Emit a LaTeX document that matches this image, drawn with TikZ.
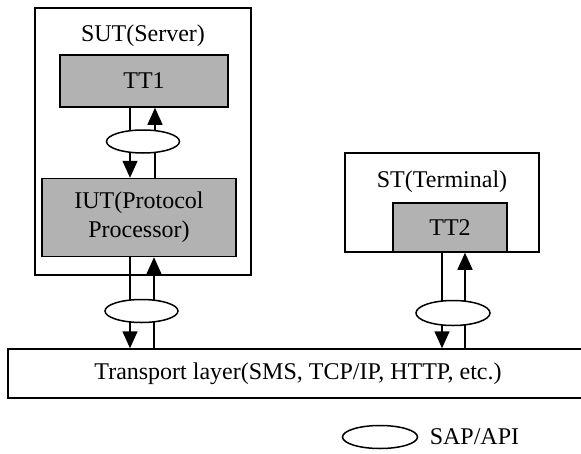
\documentclass[tikz,border=0pt]{standalone}
\usepackage{fontspec}
\setmainfont{Liberation Serif}
\usetikzlibrary{shapes.geometric,arrows.meta,positioning}

\tikzset{
    box/.style={draw, line width=1.5pt, inner sep=0pt},
    tester/.style={box, fill=gray!60, align=center},
    sap/.style={draw, ellipse, line width=1.5pt, fill=white, minimum width=73pt, minimum height=23pt, inner sep=0pt},
    flow/.style={line width=1.5pt, -{Triangle[width=15pt,length=17pt]}},
}

\begin{document}
\begin{tikzpicture}[x=1pt, y=-1pt, font=\fontsize{24}{29}\selectfont]
        \useasboundingbox (0,0) rectangle (581,453);

        % Server side
        \node[box, minimum width=216pt, minimum height=267pt] (sut) at (143,141.5) {};
        \node (sutlabel) at (143,36) {SUT(Server)};
        \node[tester, minimum width=168pt, minimum height=52pt] (tt1) at (144,81) {TT1};
        \node[tester, minimum width=194pt, minimum height=78pt] (iut) at (139,217.5) {IUT(Protocol\\Processor)};

        % Terminal side
        \node[box, minimum width=194pt, minimum height=99pt] (st) at (442,202.5) {};
        \node (stlabel) at (442,182) {ST(Terminal)};
        \node[tester, minimum width=114pt, minimum height=49pt] (tt2) at (450,227.5) {TT2};

        % Transport layer (runs off the right edge)
        \node[box, minimum width=580pt, minimum height=49pt] (transport) at (298,373.5) {Transport layer(SMS, TCP/IP, HTTP, etc.)};

        % Down and up paths
        \draw[flow] ([xshift=-14pt]tt1.south) -- ([xshift=-14pt]tt1.south |- iut.north);
        \draw[flow] ([xshift=11pt]tt1.south |- iut.north) -- ([xshift=11pt]tt1.south);
        \draw[flow] ([xshift=-9pt]iut.south) -- ([xshift=-9pt]iut.south |- transport.north);
        \draw[flow] ([xshift=15pt]iut.south |- transport.north) -- ([xshift=15pt]iut.south);
        \draw[flow] ([xshift=-8pt]tt2.south) -- ([xshift=-8pt]tt2.south |- transport.north);
        \draw[flow] ([xshift=15pt]tt2.south |- transport.north) -- ([xshift=15pt]tt2.south);

        % Access points on top of the paths
        \node[sap] (sap1) at (143,141.5) {};
        \node[sap] (sap2) at (141.5,311) {};
        \node[sap, minimum width=74pt, minimum height=25pt] (sap3) at (453,313) {};

        % Legend
        \node[sap, minimum width=75pt] (key) at (380,437) {};
        \node[right=8pt of key] (keylabel) {SAP/API};
    \end{tikzpicture}
\end{document}
